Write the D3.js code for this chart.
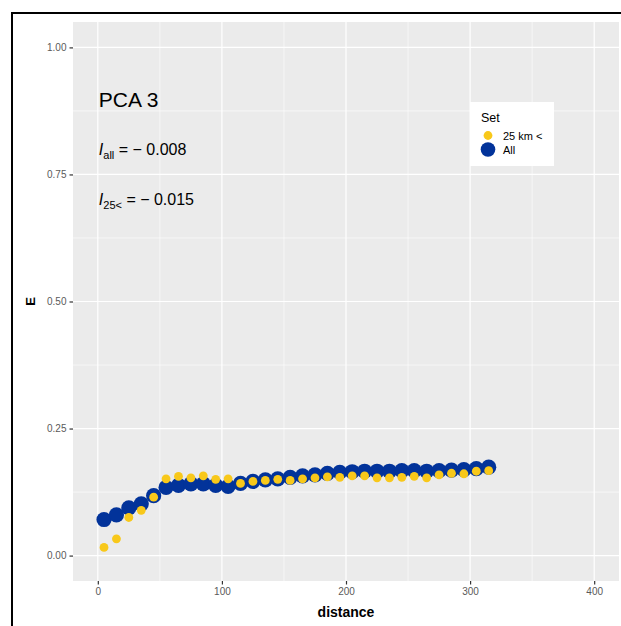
<!DOCTYPE html>
<html>
<head>
<meta charset="utf-8">
<script src="https://cdn.jsdelivr.net/npm/d3@7"></script>
<style>
  body { margin: 0; background: #fff; }
  svg { display: block; font-family: "Liberation Sans", Arial, sans-serif; }
</style>
</head>
<body>
<div id="chart"></div>
<script>
// distance bins and Moran-style E values
let distance = [5, 15, 25, 35, 45, 55, 65, 75, 85, 95, 105, 115, 125, 135, 145, 155,
                165, 175, 185, 195, 205, 215, 225, 235, 245, 255, 265, 275, 285, 295, 305, 315]
let eAll = [0.071, 0.080, 0.094, 0.102, 0.118, 0.134, 0.138, 0.141, 0.141, 0.138, 0.136, 0.142,
            0.146, 0.149, 0.151, 0.154, 0.157, 0.159, 0.162, 0.164, 0.165, 0.166, 0.166, 0.166,
            0.167, 0.167, 0.166, 0.167, 0.168, 0.169, 0.171, 0.174]
let e25 = [0.016, 0.033, 0.075, 0.089, 0.115, 0.151, 0.156, 0.153, 0.157, 0.150, 0.151, 0.142,
           0.146, 0.148, 0.150, 0.148, 0.151, 0.153, 0.155, 0.154, 0.157, 0.157, 0.153, 0.153,
           0.154, 0.156, 0.153, 0.159, 0.162, 0.161, 0.166, 0.167]
let xTicks = [0, 100, 200, 300, 400]
let yTicks = [0, 0.25, 0.5, 0.75, 1]
let setNames = ["25 km <", "All"]

const W = 621, H = 626
const blue = "#02339a", yellow = "#f8c81a"

let svg = d3.select("#chart").append("svg")
    .attr("width", W)
    .attr("height", H)

// outer frame (cropped figure border)
svg.append("rect")
    .attr("x", 12).attr("y", 13)
    .attr("width", W + 10).attr("height", H + 10)
    .attr("fill", "none")
    .attr("stroke", "#000")
    .attr("stroke-width", 2)

let x = d3.scaleLinear().domain([-20, 420]).range([73, 619])
let y = d3.scaleLinear().domain([-0.05, 1.05]).range([581, 22])

// panel
svg.append("rect")
    .attr("x", x(-20)).attr("y", y(1.05))
    .attr("width", x(420) - x(-20)).attr("height", y(-0.05) - y(1.05))
    .attr("fill", "#ebebeb")

let grid = svg.append("g")
let minorX = [50, 150, 250, 350]
let minorY = [0.125, 0.375, 0.625, 0.875]
grid.selectAll(".mx").data(minorX).enter().append("line")
    .attr("x1", d => x(d)).attr("x2", d => x(d))
    .attr("y1", y(1.05)).attr("y2", y(-0.05))
    .attr("stroke", "#fff").attr("stroke-width", 0.6)
grid.selectAll(".my").data(minorY).enter().append("line")
    .attr("y1", d => y(d)).attr("y2", d => y(d))
    .attr("x1", x(-20)).attr("x2", x(420))
    .attr("stroke", "#fff").attr("stroke-width", 0.6)
grid.selectAll(".gx").data(xTicks).enter().append("line")
    .attr("x1", d => x(d)).attr("x2", d => x(d))
    .attr("y1", y(1.05)).attr("y2", y(-0.05))
    .attr("stroke", "#fff").attr("stroke-width", 1.2)
grid.selectAll(".gy").data(yTicks).enter().append("line")
    .attr("y1", d => y(d)).attr("y2", d => y(d))
    .attr("x1", x(-20)).attr("x2", x(420))
    .attr("stroke", "#fff").attr("stroke-width", 1.2)

// axes
let xAxis = d3.axisBottom(x).tickValues(xTicks).tickSize(3.5).tickPadding(3)
let yAxis = d3.axisLeft(y).tickValues(yTicks).tickSize(3.5).tickPadding(3).tickFormat(d3.format(".2f"))

let gx = svg.append("g").attr("transform", `translate(0, ${y(-0.05)})`).call(xAxis)
let gy = svg.append("g").attr("transform", `translate(${x(-20)}, 0)`).call(yAxis)
;[gx, gy].forEach(g => {
    g.select(".domain").remove()
    g.selectAll(".tick line").attr("stroke", "#333").attr("stroke-width", 1.2)
    g.selectAll(".tick text").attr("fill", "#5a5a5a").style("font-size", "10px")
        .style("font-family", "Liberation Sans, Arial, sans-serif")
})

// axis titles
svg.append("text")
    .attr("x", (x(-20) + x(420)) / 2).attr("y", 617)
    .attr("text-anchor", "middle")
    .style("font-size", "14px").style("font-weight", "bold")
    .text("distance")
svg.append("text")
    .attr("transform", `translate(35, ${(y(1.05) + y(-0.05)) / 2}) rotate(-90)`)
    .attr("text-anchor", "middle")
    .style("font-size", "13px").style("font-weight", "bold")
    .text("E")

// points: All (large, blue) under 25 km < (small, yellow)
svg.append("g").selectAll("circle").data(distance).enter().append("circle")
    .attr("cx", d => x(d))
    .attr("cy", (d, i) => y(eAll[i]))
    .attr("r", 7.6)
    .attr("fill", blue)
svg.append("g").selectAll("circle").data(distance).enter().append("circle")
    .attr("cx", d => x(d))
    .attr("cy", (d, i) => y(e25[i]))
    .attr("r", 4.4)
    .attr("fill", yellow)

// annotations
svg.append("text")
    .attr("x", x(0) + 1).attr("y", 107)
    .style("font-size", "21px")
    .text("PCA 3")

let ann1 = svg.append("text").attr("x", x(0) + 1).attr("y", 155).style("font-size", "16px")
ann1.append("tspan").style("font-style", "italic").text("I")
ann1.append("tspan").attr("dy", 4).style("font-size", "11px").text("all")
ann1.append("tspan").attr("dy", -4).text(" = \u2212 0.008")

let ann2 = svg.append("text").attr("x", x(0) + 1).attr("y", 205).style("font-size", "16px")
ann2.append("tspan").style("font-style", "italic").text("I")
ann2.append("tspan").attr("dy", 4).style("font-size", "11px").text("25<")
ann2.append("tspan").attr("dy", -4).text(" = \u2212 0.015")

// legend
let legend = svg.append("g")
legend.append("rect")
    .attr("x", 470).attr("y", 102)
    .attr("width", 84).attr("height", 64)
    .attr("fill", "#fff")
legend.append("text")
    .attr("x", 481).attr("y", 122)
    .style("font-size", "12.5px")
    .text("Set")
let keyR = [4.4, 7.3]
let keyCol = [yellow, blue]
let keyY = [135.5, 149.5]
setNames.forEach((name, i) => {
    legend.append("circle")
        .attr("cx", 488).attr("cy", keyY[i])
        .attr("r", keyR[i]).attr("fill", keyCol[i])
    legend.append("text")
        .attr("x", 503).attr("y", keyY[i] + 4)
        .style("font-size", "11px")
        .text(name)
})
</script>
</body>
</html>
